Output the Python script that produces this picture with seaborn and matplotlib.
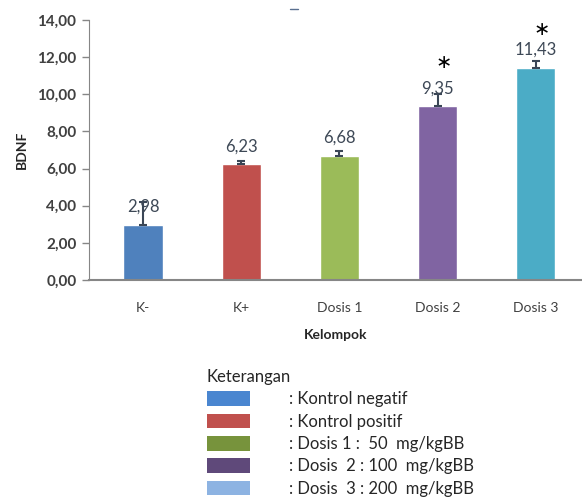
import numpy as np
import pandas as pd
import matplotlib
matplotlib.use("Agg")
import matplotlib.pyplot as plt
from matplotlib.patches import Patch
from matplotlib.lines import Line2D
import seaborn as sns

groups = ["K-", "K+", "Dosis 1", "Dosis 2", "Dosis 3"]
bdnf = [2.98, 6.23, 6.68, 9.35, 11.43]
sd = [1.2, 0.15, 0.25, 0.65, 0.35]
signif = [False, False, False, True, True]
bar_colors = ["#4f81bd", "#c0504d", "#9bbb59", "#8064a2", "#4bacc6"]

legend_labels = [": Kontrol negatif", ": Kontrol positif", ": Dosis 1 :  50  mg/kgBB",
                 ": Dosis  2 : 100  mg/kgBB", ": Dosis  3 : 200  mg/kgBB"]
legend_colors = ["#4a86d0", "#c0504d", "#77933c", "#5f497a", "#8db3e2"]

sns.set_style("white")
plt.rcParams["font.family"] = ["Lato", "DejaVu Sans"]

df = pd.DataFrame({"group": groups, "bdnf": bdnf})

fig = plt.figure(figsize=(5.82, 4.99), dpi=100)
ax = fig.add_axes([0.153, 0.439, 0.847, 0.521])

sns.barplot(data=df, x="group", y="bdnf", hue="group", palette=bar_colors,
            width=0.40, legend=False, errorbar=None, saturation=1, ax=ax)

x = np.arange(len(groups))
ax.errorbar(x, bdnf, yerr=[np.zeros(len(sd)), sd], fmt="none", ecolor="#3a4656",
            elinewidth=1.5, capsize=3, capthick=1.5)

for xi, v, e, s in zip(x, bdnf, sd, signif):
    ax.annotate(f"{v:.2f}".replace(".", ","), (xi, v), xytext=(0, 18),
                textcoords="offset pixels", ha="center", va="center",
                fontsize=12, color="#3d4856")
    if s:
        ax.annotate(r"$\ast$", (xi, v + e), xytext=(5, 32), textcoords="offset pixels",
                    ha="center", va="center", fontsize=14, color="black")

ax.set_ylim(0, 14)
ax.set_xlim(-0.55, 4.47)
ax.set_yticks(np.arange(0, 15, 2))
ax.set_yticklabels([f"{t:.2f}".replace(".", ",") for t in np.arange(0, 15, 2)],
                   fontsize=11, fontweight="bold", color="#404040")
ax.set_xticks(x)
ax.set_xticklabels(groups, fontsize=10, color="#404040")
ax.tick_params(axis="y", length=5, width=1, color="#868686", left=True, pad=4)
ax.tick_params(axis="x", length=0, pad=16)
for side in ["top", "right"]:
    ax.spines[side].set_visible(False)
ax.spines["left"].set_color("#868686")
ax.spines["bottom"].set_color("#868686")
ax.spines["bottom"].set_linewidth(1.5)
ax.set_ylabel("BDNF", fontsize=10, fontweight="bold", color="#262626", labelpad=7)
ax.set_xlabel("Kelompok", fontsize=10, fontweight="bold", color="#262626", labelpad=11)

# stray dash at top of the original
fig.add_artist(Line2D([290 / 582, 298 / 582], [1 - 9 / 499, 1 - 9 / 499],
                      color="#5a7090", linewidth=1))

handles = [Patch(facecolor=c, edgecolor="none") for c in legend_colors]
leg = fig.legend(handles, legend_labels, title="Keterangan", loc="upper left",
                 bbox_to_anchor=(207 / 582, 1 - 369 / 499), frameon=False,
                 fontsize=12, title_fontsize=12, alignment="left",
                 handlelength=2.6, handleheight=0.96, labelspacing=0.38,
                 handletextpad=2.3, borderaxespad=0, borderpad=0)
for t in leg.get_texts():
    t.set_color("#262626")
leg.get_title().set_color("#262626")

fig.savefig("out.png", dpi=100)
